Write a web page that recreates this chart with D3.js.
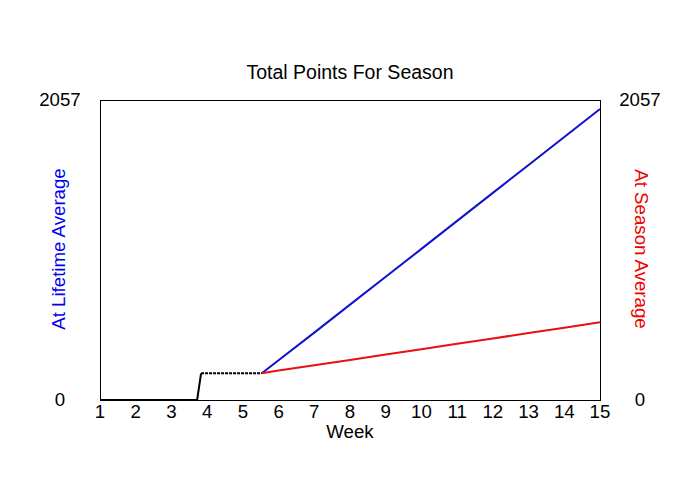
<!DOCTYPE html>
<html>
<head>
<meta charset="utf-8">
<script src="https://cdn.jsdelivr.net/npm/d3@7"></script>
<style>
  html, body { margin: 0; padding: 0; background: #fff; }
  svg { display: block; }
  text { font-family: "Liberation Sans", Arial, sans-serif; font-size: 18.67px; }
</style>
</head>
<body>
<svg id="chart" width="700" height="500"></svg>
<script>
// ---- data ----
const title = "Total Points For Season";
const xTitle = "Week";
const leftTitle = "At Lifetime Average";
const rightTitle = "At Season Average";
const xTicks = [1,2,3,4,5,6,7,8,9,10,11,12,13,14,15];
const yMax = 2057;
const yTickLabels = ["0", "2057"];

// actual points so far (black)
const actualWeeks  = [1, 3.72, 3.83, 5.53];
const actualPoints = [0, 0, 183, 183];

// projection at lifetime average (blue)
const projWeeks     = [5.53, 6, 7, 8, 9, 10, 11, 12, 13, 14, 15];
const lifetimeProj  = [183, 272, 462, 654, 845, 1036, 1228, 1420, 1611, 1803, 1995];
// projection at season average (red)
const seasonProj    = [183, 202, 238, 275, 312, 348, 385, 422, 459, 496, 533];

// ---- drawing ----
const svg = d3.select("#chart");
const L = 100, R = 600, T = 100, B = 400;
const x = d3.scaleLinear().domain([1, 15]).range([L, R]);
const y = d3.scaleLinear().domain([0, yMax]).range([B, T]);

const line = d3.line().x(d => x(d[0])).y(d => y(d[1]));

// frame
svg.append("rect").attr("x", L + 0.5).attr("y", T + 0.5)
  .attr("width", R - L).attr("height", B - T)
  .attr("fill", "none").attr("stroke", "#000").attr("stroke-width", 1);

// title
svg.append("text").attr("x", 350).attr("y", 79).attr("text-anchor", "middle")
  .style("font-size", "19.5px").attr("fill", "#000").text(title);

// x tick labels
svg.append("g").selectAll("text").data(xTicks).join("text")
  .attr("x", d => x(d)).attr("y", 418).attr("text-anchor", "middle")
  .attr("fill", "#000").text(d => d);

// x title
svg.append("text").attr("x", 350).attr("y", 438).attr("text-anchor", "middle")
  .attr("fill", "#000").text(xTitle);

// y tick labels both sides
const yVals = [0, yMax];
[60, 640].forEach(cx => {
  svg.append("g").selectAll("text").data(yVals).join("text")
    .attr("x", cx).attr("y", d => y(d) + 6).attr("text-anchor", "middle")
    .attr("fill", "#000").text((d, i) => yTickLabels[i]);
});

// axis titles
svg.append("text").attr("transform", "translate(65,249) rotate(-90)")
  .attr("text-anchor", "middle").attr("fill", "#0000ee").text(leftTitle);
svg.append("text").attr("transform", "translate(635,249) rotate(90)")
  .attr("text-anchor", "middle").attr("fill", "#ee0000").text(rightTitle);

// projections
const blueData = projWeeks.map((w, i) => [w, lifetimeProj[i]]);
const redData  = projWeeks.map((w, i) => [w, seasonProj[i]]);
svg.append("path").datum(blueData).attr("d", line)
  .attr("fill", "none").attr("stroke", "#1010d0").attr("stroke-width", 2);
svg.append("path").datum(redData).attr("d", line)
  .attr("fill", "none").attr("stroke", "#e81010").attr("stroke-width", 2);

// actual (black): solid up to step, dashed flat part
const actData = actualWeeks.map((w, i) => [w, actualPoints[i]]);
svg.append("path").datum(actData.slice(0, 3)).attr("d", line)
  .attr("fill", "none").attr("stroke", "#000").attr("stroke-width", 2)
  .attr("stroke-linejoin", "round");
svg.append("path").datum(actData.slice(2)).attr("d", line)
  .attr("fill", "none").attr("stroke", "#000").attr("stroke-width", 2)
  .attr("stroke-dasharray", "3,1");
</script>
</body>
</html>
